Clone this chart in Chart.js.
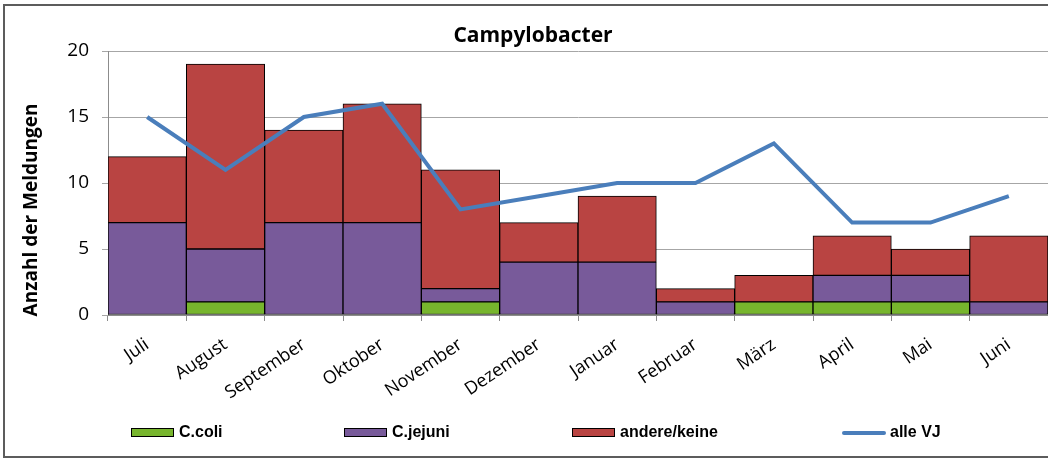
<!DOCTYPE html>
<html>
<head>
<meta charset="utf-8">
<title>Campylobacter</title>
<script src="https://cdn.jsdelivr.net/npm/chart.js@4/dist/chart.umd.min.js"></script>
<style>
    html, body { margin: 0; padding: 0; background: #fff; }
    #wrap { width: 1048px; height: 459px; position: relative; }
</style>
</head>
<body>
<div id="wrap"><canvas id="chart"></canvas></div>
<script>
// Data
const months = ['Juli', 'August', 'September', 'Oktober', 'November', 'Dezember',
                'Januar', 'Februar', 'März', 'April', 'Mai', 'Juni'];
const cColi = [0, 1, 0, 0, 1, 0, 0, 0, 1, 1, 1, 0];
const cJejuni = [7, 4, 7, 7, 1, 4, 4, 1, 0, 2, 2, 1];
const andereKeine = [5, 14, 7, 9, 9, 3, 5, 1, 2, 3, 2, 5];
const alleVJ = [15, 11, 15, 16, 8, 9, 10, 10, 13, 7, 7, 9];
const yTicks = [0, 5, 10, 15, 20];
const chartTitle = 'Campylobacter';
const yTitle = 'Anzahl der Meldungen';

const COLORS = {
    coli: '#77b52d',
    jejuni: '#785a9a',
    andere: '#b94442',
    line: '#4a7ebb'
};

// zeros are left out so no empty segment gets drawn
function noZero(arr) {
    return arr.map(v => v === 0 ? null : v);
}

/**
 * Outer frame, titles and custom legend row at the bottom
 */
const framePlugin = {
    id: 'frame',
    beforeDraw(chart) {
        const ctx = chart.ctx;
        ctx.save();
        ctx.strokeStyle = '#5c5c5c';
        ctx.lineWidth = 2;
        ctx.strokeRect(4, 5, 1100, 452);
        ctx.restore();
    },
    afterDraw(chart) {
        const ctx = chart.ctx;
        ctx.save();
        ctx.fillStyle = '#000';
        ctx.textAlign = 'center';
        ctx.textBaseline = 'middle';

        // chart title
        ctx.font = 'bold 21px "Open Sans", sans-serif';
        ctx.fillText(chartTitle, 533, 36);

        // y axis title (sits a bit lower than the plot centre in the original)
        ctx.translate(32, 210);
        ctx.rotate(-Math.PI / 2);
        ctx.font = 'bold 19px "Open Sans", sans-serif';
        ctx.fillText(yTitle, 0, 0);
        ctx.setTransform(1, 0, 0, 1, 0, 0);

        const legendX = [131, 344, 572, 842];
        const y = 433;
        ctx.font = 'bold 16px "Liberation Sans", Arial, sans-serif';
        ctx.textAlign = 'left';
        chart.data.datasets.forEach((ds, i) => {
            const x = legendX[i];
            if (ds.type === 'line') {
                ctx.strokeStyle = ds.borderColor;
                ctx.lineWidth = 4;
                ctx.lineCap = 'round';
                ctx.beginPath();
                ctx.moveTo(x + 2, y);
                ctx.lineTo(x + 42, y);
                ctx.stroke();
            } else {
                ctx.fillStyle = ds.backgroundColor;
                ctx.fillRect(x, y - 5, 43, 9);
                ctx.strokeStyle = '#000';
                ctx.lineWidth = 1;
                ctx.strokeRect(x + 0.5, y - 4.5, 42, 8);
            }
            ctx.fillStyle = '#000';
            ctx.fillText(ds.label, x + 48, y);
        });
        ctx.restore();
    }
};

const barStyle = {
    type: 'bar',
    borderColor: '#000',
    borderWidth: 1,
    borderSkipped: false,
    barPercentage: 1,
    categoryPercentage: 1,
    order: 1,
    stack: 'a'
};

new Chart(document.getElementById('chart'), {
    data: {
        labels: months,
        datasets: [
            Object.assign({ label: 'C.coli', data: noZero(cColi), backgroundColor: COLORS.coli }, barStyle),
            Object.assign({ label: 'C.jejuni', data: noZero(cJejuni), backgroundColor: COLORS.jejuni }, barStyle),
            Object.assign({ label: 'andere/keine', data: noZero(andereKeine), backgroundColor: COLORS.andere }, barStyle),
            {
                type: 'line',
                label: 'alle VJ',
                data: alleVJ,
                borderColor: COLORS.line,
                backgroundColor: COLORS.line,
                borderWidth: 4,
                pointRadius: 0,
                tension: 0,
                fill: false,
                order: 0
            }
        ]
    },
    options: {
        responsive: true,
        maintainAspectRatio: false,
        animation: false,
        layout: { padding: { top: 51, left: 0, right: 0, bottom: 0 } },
        plugins: {
            legend: { display: false },
            tooltip: { enabled: false },
            title: { display: false }
        },
        scales: {
            x: {
                stacked: true,
                offset: true,
                grid: {
                    offset: true,
                    drawOnChartArea: false,
                    drawTicks: true,
                    tickLength: 6,
                    color: '#8c8c8c'
                },
                border: { color: '#8c8c8c' },
                ticks: {
                    color: '#000',
                    font: { family: '"Open Sans", sans-serif', size: 18 },
                    minRotation: 34,
                    maxRotation: 34,
                    autoSkip: false,
                    padding: 13
                },
                afterFit(scale) { scale.height = 144; }
            },
            y: {
                stacked: true,
                min: 0,
                max: 20,
                afterBuildTicks(scale) {
                    scale.ticks = yTicks.map(v => ({ value: v }));
                },
                grid: {
                    color: '#a6a6a6',
                    tickLength: 6
                },
                border: { color: '#8c8c8c' },
                ticks: {
                    color: '#000',
                    font: { family: '"Open Sans", sans-serif', size: 19 },
                    padding: 13
                },
                afterFit(scale) { scale.width = 108; }
            }
        }
    },
    plugins: [framePlugin]
});
</script>
</body>
</html>
